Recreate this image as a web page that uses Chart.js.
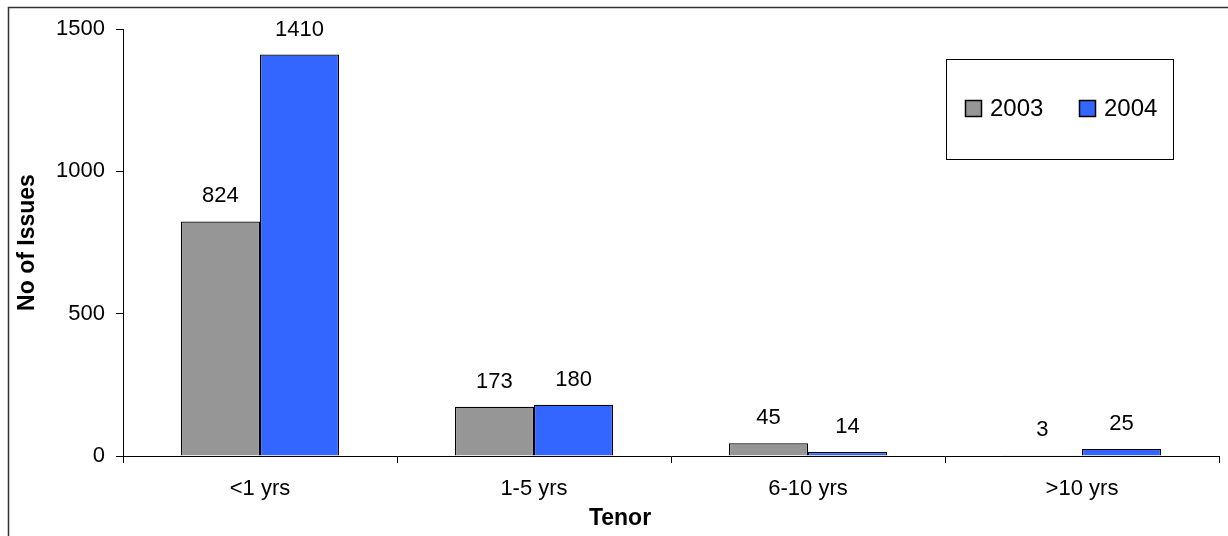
<!DOCTYPE html>
<html>
<head>
<meta charset="utf-8">
<script src="https://cdn.jsdelivr.net/npm/chart.js@4.4.0/dist/chart.umd.min.js"></script>
<style>
  html, body { margin: 0; padding: 0; background: #fff; }
  #wrap { width: 1228px; height: 536px; position: relative; }
</style>
</head>
<body>
<div id="wrap"><canvas id="chart" width="1228" height="536"></canvas></div>
<script>
  // データ
  var tenors = ['<1 yrs', '1-5 yrs', '6-10 yrs', '>10 yrs'];
  var issues2003 = [824, 173, 45, 3];
  var issues2004 = [1410, 180, 14, 25];
  var yTicks = [0, 500, 1000, 1500];

  var FONT = "'Liberation Sans', Arial, sans-serif";

  // 外枠
  var framePlugin = {
    id: 'frame',
    beforeDraw: function(chart) {
      var ctx = chart.ctx;
      ctx.save();
      ctx.fillStyle = '#fff';
      ctx.fillRect(0, 0, chart.width, chart.height);
      ctx.strokeStyle = '#333';
      ctx.lineWidth = 1.5;
      ctx.beginPath();
      ctx.moveTo(8.5, chart.height + 2);
      ctx.lineTo(8.5, 7.5);
      ctx.lineTo(chart.width + 2, 7.5);
      ctx.stroke();
      ctx.restore();
    }
  };

  // 値ラベル
  var valueLabels = {
    id: 'valueLabels',
    afterDatasetsDraw: function(chart) {
      var ctx = chart.ctx;
      ctx.save();
      ctx.font = '22px ' + FONT;
      ctx.fillStyle = '#000';
      ctx.textAlign = 'center';
      ctx.textBaseline = 'middle';
      chart.data.datasets.forEach(function(ds, i) {
        chart.getDatasetMeta(i).data.forEach(function(bar, j) {
          ctx.fillText(String(ds.data[j]), bar.x, bar.y - 25);
        });
      });
      ctx.restore();
    }
  };

  // 凡例（枠付き）とX軸タイトル
  var boxLegend = {
    id: 'boxLegend',
    afterDraw: function(chart) {
      var ctx = chart.ctx;
      ctx.save();
      ctx.strokeStyle = '#000';
      ctx.lineWidth = 1;
      ctx.strokeRect(946.5, 59.5, 227, 100);
      ctx.font = '24px ' + FONT;
      ctx.textBaseline = 'middle';
      ctx.textAlign = 'left';
      var xs = [965, 1079];
      chart.data.datasets.forEach(function(ds, i) {
        ctx.fillStyle = ds.backgroundColor;
        ctx.fillRect(xs[i], 100, 17, 17);
        ctx.lineWidth = 1.5;
        ctx.strokeRect(xs[i] + 0.5, 100.5, 16, 16);
        ctx.fillStyle = '#000';
        ctx.fillText(ds.label, xs[i] + 25, 109);
      });
      // Tenor
      ctx.font = 'bold 23px ' + FONT;
      ctx.textAlign = 'center';
      ctx.fillText('Tenor', 620, 519);
      ctx.restore();
    }
  };

  var ctx = document.getElementById('chart').getContext('2d');
  var myChart = new Chart(ctx, {
    type: 'bar',
    data: {
      labels: tenors,
      datasets: [
        {
          label: '2003',
          data: issues2003,
          backgroundColor: '#969696',
          borderColor: '#000',
          borderWidth: 1.2
        },
        {
          label: '2004',
          data: issues2004,
          backgroundColor: '#3366ff',
          borderColor: '#000',
          borderWidth: 1.2
        }
      ]
    },
    options: {
      responsive: false,
      animation: false,
      layout: { padding: { left: 10, right: 9, top: 29, bottom: 0 } },
      plugins: {
        legend: { display: false },
        tooltip: { enabled: false }
      },
      datasets: {
        bar: { categoryPercentage: 0.577, barPercentage: 1.0 }
      },
      scales: {
        x: {
          grid: {
            offset: true,
            drawOnChartArea: false,
            color: '#000',
            tickLength: 7,
            tickWidth: 1
          },
          border: { color: '#000', width: 1 },
          ticks: {
            color: '#000',
            font: { family: FONT, size: 22 },
            padding: 13,
            maxRotation: 0
          },
          afterFit: function(scale) { scale.height = 80; }
        },
        y: {
          min: 0,
          max: 1500,
          afterBuildTicks: function(scale) {
            scale.ticks = yTicks.map(function(v) { return { value: v }; });
          },
          grid: {
            drawOnChartArea: false,
            color: '#000',
            tickLength: 7
          },
          border: { color: '#000', width: 1 },
          ticks: {
            color: '#000',
            font: { family: FONT, size: 22 },
            padding: 11,
            callback: function(v) { return String(v); }
          },
          title: {
            display: true,
            text: 'No of Issues',
            color: '#000',
            font: { family: FONT, size: 23, weight: 'bold' },
            padding: { top: 4, bottom: 0 }
          },
          afterFit: function(scale) { scale.width = 113; }
        }
      }
    },
    plugins: [framePlugin, valueLabels, boxLegend]
  });
</script>
</body>
</html>
